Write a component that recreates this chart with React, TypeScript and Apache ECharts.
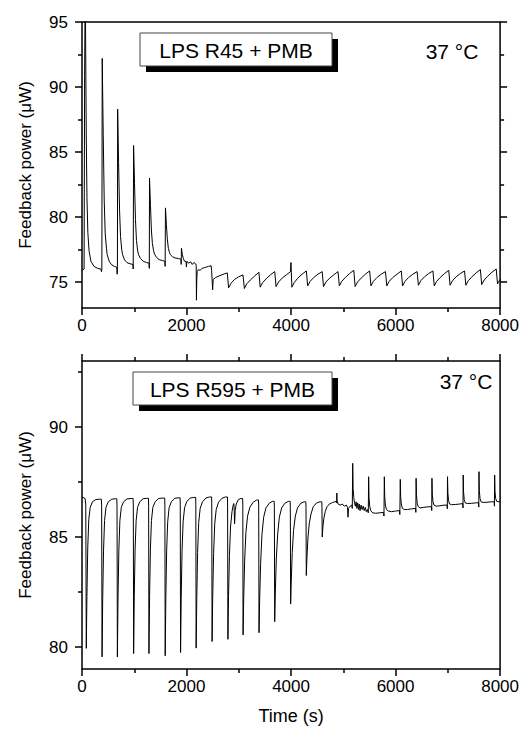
import React, { useEffect, useRef } from "react";
import * as echarts from "echarts";

// ---- Top panel: LPS R45 + PMB (time s, feedback power µW) ----
const topSpikePhase: number[][] = [
  [0, 75.9], [40, 76.0], [50, 90.8], [62, 98.0], [72, 92.0], [82, 86.0], [95, 81.5], [112, 78.8], [135, 77.4], [170, 76.6], [230, 76.2], [300, 76.05], [360, 76.0],
  [372, 75.8], [380, 76.0], [387, 92.2], [406, 86.4], [425, 81.3], [444, 78.7], [468, 77.6], [482, 77.1], [520, 76.6], [560, 76.35], [620, 76.2], [665, 76.15],
  [669, 76.1], [673, 75.6], [678, 76.2], [682, 88.3], [700, 84.2], [718, 80.6], [737, 78.5], [760, 77.5], [777, 77.1], [815, 76.7], [860, 76.5], [920, 76.4], [975, 76.35],
  [980, 76.0], [987, 85.5], [1005, 82.6], [1023, 79.8], [1042, 78.2], [1065, 77.4], [1082, 77.1], [1120, 76.8], [1170, 76.6], [1230, 76.5], [1282, 76.45],
  [1288, 76.05], [1292, 83.0], [1310, 80.9], [1328, 79.0], [1347, 77.95], [1370, 77.4], [1387, 77.15], [1425, 76.9], [1475, 76.72], [1540, 76.65], [1586, 76.6],
  [1591, 76.2], [1597, 80.7], [1615, 79.4], [1633, 78.3], [1652, 77.6], [1675, 77.25], [1692, 77.1], [1730, 76.95], [1780, 76.85], [1850, 76.8], [1893, 76.75],
  [1898, 76.35], [1903, 77.6], [1920, 77.1], [1940, 76.8], [1960, 76.6], [1980, 76.6], [1992, 76.5], [1998, 76.15], [2006, 76.6], [2040, 76.45],
  [2080, 76.55], [2110, 76.35], [2140, 76.5], [2175, 76.4], [2185, 76.3], [2190, 73.6], [2196, 75.2], [2204, 75.8], [2225, 75.95], [2260, 75.9],
  [2300, 76.05], [2340, 76.1], [2380, 76.15], [2420, 76.2], [2470, 76.25], [2480, 75.9],
];
const topSawtooth: number[][] = [
  [2500, 74.4], [2510, 75.2], [2560, 75.35], [2640, 75.5], [2720, 75.62], [2780, 75.7],
  [2805, 74.55], [2850, 74.9], [2920, 75.2], [3000, 75.4], [3080, 75.55],
  [3107, 74.5], [3150, 74.85], [3220, 75.15], [3300, 75.45], [3385, 75.75],
  [3410, 74.6], [3455, 74.95], [3525, 75.25], [3605, 75.55], [3688, 75.8],
  [3713, 74.65], [3760, 75.0], [3830, 75.3], [3910, 75.55], [3990, 75.8], [3998, 76.5],
  [4016, 74.6], [4060, 74.95], [4130, 75.3], [4210, 75.6], [4293, 75.85],
  [4318, 74.7], [4365, 75.05], [4435, 75.35], [4515, 75.6], [4596, 75.8],
  [4621, 74.65], [4668, 75.0], [4738, 75.3], [4818, 75.55], [4899, 75.8],
  [4924, 74.7], [4970, 75.05], [5040, 75.35], [5120, 75.65], [5201, 75.9],
  [5226, 74.65], [5272, 75.0], [5342, 75.3], [5422, 75.6], [5504, 75.85],
  [5529, 74.7], [5575, 75.05], [5645, 75.35], [5725, 75.6], [5807, 75.8],
  [5832, 74.7], [5878, 75.05], [5948, 75.35], [6028, 75.6], [6109, 75.85],
  [6134, 74.7], [6180, 75.05], [6250, 75.35], [6330, 75.6], [6412, 75.8],
  [6437, 74.75], [6483, 75.1], [6553, 75.4], [6633, 75.65], [6715, 75.85],
  [6740, 74.7], [6786, 75.05], [6856, 75.35], [6936, 75.65], [7018, 75.9],
  [7043, 74.75], [7089, 75.1], [7159, 75.4], [7239, 75.65], [7320, 75.85],
  [7345, 74.75], [7391, 75.1], [7461, 75.4], [7541, 75.7], [7623, 75.95],
  [7648, 74.8], [7694, 75.15], [7764, 75.45], [7844, 75.75], [7926, 76.0],
  [7951, 74.85], [7975, 75.05], [8000, 75.2],
];

// ---- Bottom panel: LPS R595 + PMB ----
const bottomDipPhase: number[][] = [
  [0, 86.8], [20, 86.8], [60, 86.75], [72, 86.45], [82, 79.94], [94, 82.3], [110, 84.5], [130, 85.8], [157, 86.35], [200, 86.6], [260, 86.7], [330, 86.72], [370, 86.72],
  [376, 86.4], [384, 79.55], [396, 82.2], [412, 84.4], [432, 85.75], [459, 86.35], [502, 86.6], [570, 86.72], [640, 86.74], [666, 86.74],
  [670, 86.4], [677, 79.55], [689, 82.2], [705, 84.4], [725, 85.75], [752, 86.35], [795, 86.6], [860, 86.73], [940, 86.75], [978, 86.75],
  [982, 86.4], [988, 79.7], [1000, 82.3], [1016, 84.45], [1036, 85.75], [1063, 86.35], [1106, 86.6], [1170, 86.74], [1240, 86.76], [1272, 86.76],
  [1275, 86.4], [1281, 79.7], [1293, 82.3], [1309, 84.45], [1329, 85.75], [1356, 86.35], [1399, 86.6], [1465, 86.75], [1540, 86.77], [1583, 86.77],
  [1586, 86.4], [1592, 79.6], [1604, 82.2], [1620, 84.4], [1640, 85.7], [1667, 86.33], [1710, 86.6], [1775, 86.76], [1840, 86.78], [1877, 86.78],
  [1880, 86.45], [1886, 79.75], [1898, 82.2], [1914, 84.35], [1935, 85.7], [1963, 86.33], [2006, 86.62], [2070, 86.77], [2140, 86.8], [2175, 86.8],
  [2178, 86.45], [2184, 79.95], [2196, 82.2], [2212, 84.3], [2233, 85.65], [2261, 86.3], [2305, 86.6], [2370, 86.77], [2440, 86.82], [2480, 86.82],
  [2483, 86.5], [2489, 80.25], [2501, 82.3], [2518, 84.25], [2540, 85.6], [2568, 86.25], [2612, 86.58], [2678, 86.76], [2745, 86.82], [2783, 86.82],
  [2786, 86.5], [2792, 80.35], [2804, 82.3], [2821, 84.15], [2843, 85.5], [2870, 86.15], [2893, 86.45], [2906, 86.52], [2913, 86.2], [2920, 85.6], [2931, 86.2], [2952, 86.5], [2992, 86.7], [3040, 86.75], [3073, 86.75],
  [3077, 86.45], [3082, 80.55], [3094, 82.2], [3112, 83.9], [3136, 85.2], [3168, 85.95], [3212, 86.35], [3275, 86.58], [3340, 86.68], [3378, 86.68],
  [3381, 86.4], [3387, 80.65], [3399, 82.1], [3418, 83.8], [3443, 85.1], [3476, 85.9], [3520, 86.32], [3585, 86.54], [3645, 86.62], [3678, 86.62],
  [3681, 86.35], [3687, 81.15], [3699, 82.5], [3718, 84.0], [3743, 85.1], [3776, 85.9], [3820, 86.32], [3885, 86.54], [3950, 86.62], [3983, 86.62],
  [3986, 86.35], [3992, 81.95], [4004, 83.0], [4023, 84.3], [4048, 85.3], [4082, 85.95], [4125, 86.33], [4190, 86.54], [4250, 86.6], [4283, 86.6],
  [4286, 86.35], [4292, 83.25], [4304, 84.05], [4323, 84.95], [4348, 85.6], [4382, 86.05], [4425, 86.38], [4490, 86.55], [4555, 86.6], [4588, 86.6],
  [4591, 86.4], [4597, 85.0], [4609, 85.45], [4628, 85.85], [4653, 86.15], [4690, 86.38], [4735, 86.5], [4795, 86.57], [4840, 86.6], [4866, 86.62],
];
const bottomSpikePhase: number[][] = [
  [4872, 86.55], [4876, 87.0], [4882, 86.65], [4900, 86.5], [4940, 86.45], [4980, 86.5], [5020, 86.4], [5060, 86.45], [5080, 86.35], [5090, 85.9], [5100, 86.3],
  [5130, 86.4], [5160, 86.45], [5172, 86.3], [5180, 88.35], [5188, 87.2], [5200, 86.8], [5215, 86.55], [5230, 86.4], [5245, 86.6], [5260, 86.3], [5275, 86.55],
  [5290, 86.25], [5305, 86.5], [5320, 86.2], [5340, 86.45], [5360, 86.25], [5380, 86.4], [5400, 86.2], [5420, 86.35], [5440, 86.15], [5460, 86.25], [5478, 86.1],
  [5485, 87.74], [5492, 86.8], [5505, 86.4], [5525, 86.2], [5560, 86.1], [5620, 86.08], [5700, 86.1], [5770, 86.12],
  [5778, 85.95], [5785, 87.74], [5792, 86.85], [5805, 86.45], [5825, 86.25], [5860, 86.18], [5920, 86.15], [6000, 86.18], [6075, 86.2],
  [6082, 86.02], [6090, 87.62], [6097, 86.85], [6110, 86.5], [6130, 86.3], [6165, 86.25], [6230, 86.25], [6310, 86.28], [6383, 86.3],
  [6388, 86.12], [6393, 87.67], [6400, 86.9], [6413, 86.55], [6433, 86.38], [6470, 86.32], [6540, 86.35], [6620, 86.37], [6688, 86.38],
  [6692, 86.2], [6696, 87.67], [6703, 86.95], [6716, 86.6], [6736, 86.45], [6775, 86.4], [6850, 86.42], [6930, 86.45], [6986, 86.45],
  [6990, 86.28], [6994, 87.74], [7001, 87.0], [7014, 86.65], [7034, 86.5], [7072, 86.47], [7150, 86.48], [7230, 86.5], [7286, 86.52],
  [7290, 86.32], [7294, 87.82], [7301, 87.05], [7314, 86.7], [7334, 86.55], [7372, 86.52], [7450, 86.53], [7530, 86.55], [7588, 86.56],
  [7592, 86.36], [7596, 87.97], [7603, 87.1], [7616, 86.75], [7636, 86.6], [7675, 86.57], [7750, 86.58], [7830, 86.6], [7888, 86.6],
  [7892, 86.4], [7896, 87.82], [7903, 87.05], [7916, 86.75], [7936, 86.62], [7970, 86.6], [8000, 86.62],
];

const xTicks = [0, 2000, 4000, 6000, 8000];
const topMajor = [75, 80, 85, 90, 95];
const topMinor = [77.5, 82.5, 87.5, 92.5];
const bottomMajor = [80, 85, 90];
const bottomMinor = [82.5, 87.5, 92.5];

const FONT = "'Liberation Sans', Arial, Helvetica, sans-serif";
const BLACK = "#000";

function xAxisCfg(gridIndex: number, position: string, showLabels: boolean, showTicks: boolean, name?: string) {
  return {
    type: "value",
    gridIndex,
    position,
    min: xTicks[0],
    max: xTicks[xTicks.length - 1],
    interval: 2000,
    name: name || "",
    nameLocation: "middle",
    nameGap: 38,
    nameTextStyle: { color: BLACK, fontSize: 18, fontFamily: FONT },
    axisLine: { show: false },
    axisTick: { show: showTicks, inside: false, length: 7, lineStyle: { color: BLACK, width: 1.5 } },
    minorTick: { show: showTicks, splitNumber: 2, length: 4, lineStyle: { color: BLACK, width: 1.5 } },
    axisLabel: { show: showLabels, margin: 9, fontSize: 17, color: BLACK, fontFamily: FONT, formatter: (v: number) => String(v) },
    splitLine: { show: false },
    minorSplitLine: { show: false },
  };
}

function yAxisCfg(gridIndex: number, position: string, min: number, max: number, ticks: number[], len: number, labels: boolean, name?: string) {
  return {
    type: "value",
    gridIndex,
    position,
    min,
    max,
    name: name || "",
    nameLocation: "middle",
    nameGap: 48,
    nameTextStyle: { color: BLACK, fontSize: 17, fontFamily: FONT },
    axisLine: { show: false },
    axisTick: { show: true, inside: false, length: len, customValues: ticks, lineStyle: { color: BLACK, width: 1.5 } },
    axisLabel: { show: labels, customValues: ticks, margin: 14, fontSize: 17, color: BLACK, fontFamily: FONT },
    splitLine: { show: false },
  };
}

export default function App() {
  const ref = useRef<HTMLDivElement>(null);
  useEffect(() => {
    if (!ref.current) return;
    const chart = echarts.init(ref.current, undefined, { renderer: "svg" });
    const legendBox = (x: number, y: number, w: number, h: number, label: string) => ({
      type: "group",
      children: [
        { type: "rect", shape: { x: x + 6, y: y + 6, width: w, height: h }, style: { fill: BLACK }, z: 10 },
        { type: "rect", shape: { x, y, width: w, height: h }, style: { fill: "#fff", stroke: "#444", lineWidth: 1 }, z: 11 },
        {
          type: "text", x: x + w / 2, y: y + h / 2 + 1, z: 12,
          style: { text: label, fill: BLACK, font: `21px ${FONT}`, textAlign: "center", textVerticalAlign: "middle" },
        },
      ],
    });
    chart.setOption({
      animation: false,
      backgroundColor: "#fff",
      textStyle: { fontFamily: FONT },
      grid: [
        { left: 82, top: 22, width: 419, height: 286, show: true, borderColor: BLACK, borderWidth: 1.5, backgroundColor: "transparent" },
        { left: 82, top: 361, width: 419, height: 308, show: true, borderColor: BLACK, borderWidth: 1.5, backgroundColor: "transparent" },
      ],
      xAxis: [
        xAxisCfg(0, "bottom", true, true),
        xAxisCfg(1, "bottom", true, true, "Time (s)"),
        xAxisCfg(1, "top", false, true),
      ],
      yAxis: [
        yAxisCfg(0, "left", 73, 95, topMajor, 7, true, "Feedback power (μW)"),
        yAxisCfg(0, "left", 73, 95, topMinor, 4, false),
        yAxisCfg(0, "right", 73, 95, topMajor, 7, false),
        yAxisCfg(0, "right", 73, 95, topMinor, 4, false),
        yAxisCfg(1, "left", 79, 93, bottomMajor, 7, true, "Feedback power (μW)"),
        yAxisCfg(1, "left", 79, 93, bottomMinor, 4, false),
      ],
      series: [
        {
          type: "line", xAxisIndex: 0, yAxisIndex: 0, showSymbol: false, clip: true,
          data: [...topSpikePhase, ...topSawtooth],
          lineStyle: { color: BLACK, width: 1 }, silent: true,
        },
        {
          type: "line", xAxisIndex: 1, yAxisIndex: 4, showSymbol: false, clip: true,
          data: [...bottomDipPhase, ...bottomSpikePhase],
          lineStyle: { color: BLACK, width: 1 }, silent: true,
        },
      ],
      graphic: [
        legendBox(140, 33, 192, 33, "LPS R45 + PMB"),
        legendBox(133, 372, 199, 33, "LPS R595 + PMB"),
        { type: "text", x: 452, y: 51, style: { text: "37 °C", fill: BLACK, font: `21px ${FONT}`, textAlign: "center", textVerticalAlign: "middle" } },
        { type: "text", x: 466, y: 381, style: { text: "37 °C", fill: BLACK, font: `21px ${FONT}`, textAlign: "center", textVerticalAlign: "middle" } },
      ],
    });
    return () => chart.dispose();
  }, []);
  return <div ref={ref} style={{ position: "fixed", left: 0, top: 0, width: 522, height: 731, background: "#fff" }} />;
}
